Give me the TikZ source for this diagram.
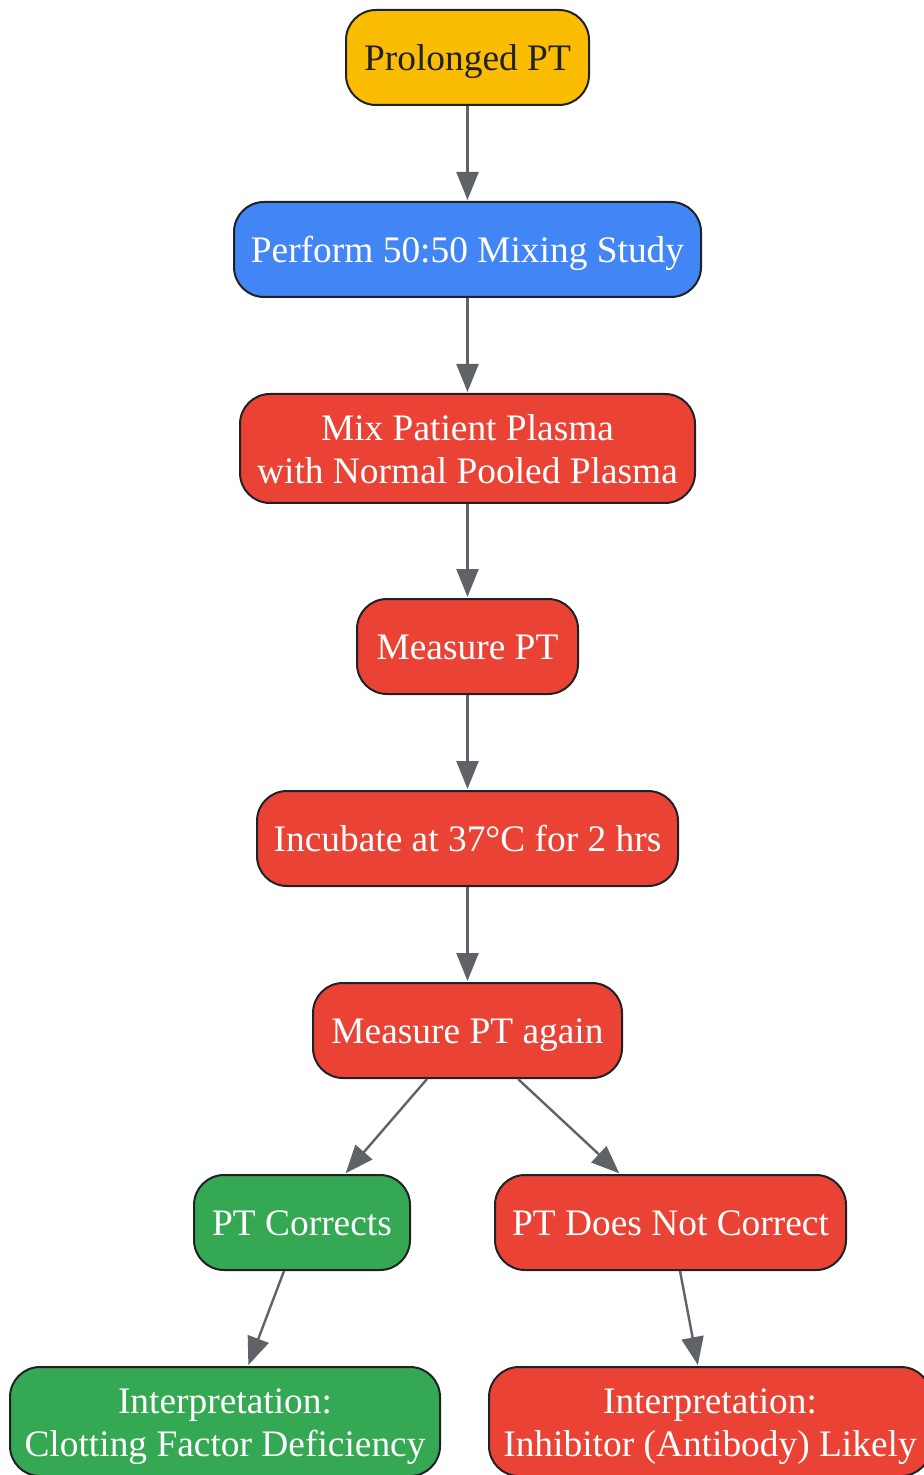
\documentclass[tikz,border=0pt]{standalone}
\usepackage{fontspec}
\setmainfont{Liberation Serif}
\usetikzlibrary{arrows.meta}
\definecolor{cyellow}{HTML}{FBBC04}
\definecolor{cblue}{HTML}{4285F4}
\definecolor{cred}{HTML}{EA4335}
\definecolor{cgreen}{HTML}{34A853}
\definecolor{cedge}{HTML}{5F6368}
\definecolor{cborder}{HTML}{202124}
\tikzset{
  box/.style={draw=cborder, line width=1pt, rounded corners=15pt, inner sep=0pt,
    align=center, text=white, font=\fontsize{18.7}{21.5}\selectfont},
  one/.style={minimum height=47.5pt, text height=14pt, text depth=1pt},
  two/.style={minimum height=54.5pt, text height=36pt, text depth=1pt},
  arr/.style={draw=cedge, line width=1.2pt, -{Triangle[length=14pt,width=11pt]}, shorten >=0.5pt},
}
\begin{document}
\begin{tikzpicture}[x=0.5pt,y=-0.5pt]
\useasboundingbox (0,0) rectangle (924,1475);
\clip (0,0) rectangle (924,1475);
\node[box, one, fill=cyellow, text=cborder, minimum width=121.5pt] (n1) at (467.5,57.5) {Prolonged PT};
\node[box, one, fill=cblue, minimum width=233.5pt] (n2) at (467.5,249.5) {Perform 50:50 Mixing Study};
\node[box, two, fill=cred, minimum width=227.5pt] (n3) at (467.5,448.5) {Mix Patient Plasma\\with Normal Pooled Plasma};
\node[box, one, fill=cred, minimum width=110.5pt] (n4) at (467.5,646.5) {Measure PT};
\node[box, one, fill=cred, minimum width=210.5pt] (n5) at (467.5,838.5) {Incubate at 37°C for 2 hrs};
\node[box, one, fill=cred, minimum width=154.5pt] (n6) at (467.5,1030.5) {Measure PT again};
\node[box, one, fill=cgreen, minimum width=108pt] (n7) at (302,1222.5) {PT Corrects};
\node[box, one, fill=cred, minimum width=175.5pt] (n8) at (670.5,1222.5) {PT Does Not Correct};
\node[box, two, fill=cgreen, minimum width=215pt] (n9) at (225,1421.5) {Interpretation:\\Clotting Factor Deficiency};
\node[box, two, fill=cred, minimum width=221pt] (n10) at (710,1421.5) {Interpretation:\\Inhibitor (Antibody) Likely};
\draw[arr] (n1.south) -- (n2.north);
\draw[arr] (n2.south) -- (n3.north);
\draw[arr] (n3.south) -- (n4.north);
\draw[arr] (n4.south) -- (n5.north);
\draw[arr] (n5.south) -- (n6.north);
\draw[arr] ([xshift=-20.25pt]n6.south) -- ([xshift=21.5pt]n7.north);
\draw[arr] ([xshift=25.25pt]n6.south) -- ([xshift=-25.25pt]n8.north);
\draw[arr] ([xshift=-9pt]n7.south) -- ([xshift=11.5pt]n9.north);
\draw[arr] ([xshift=4.75pt]n8.south) -- ([xshift=-6pt]n10.north);
\end{tikzpicture}
\end{document}
